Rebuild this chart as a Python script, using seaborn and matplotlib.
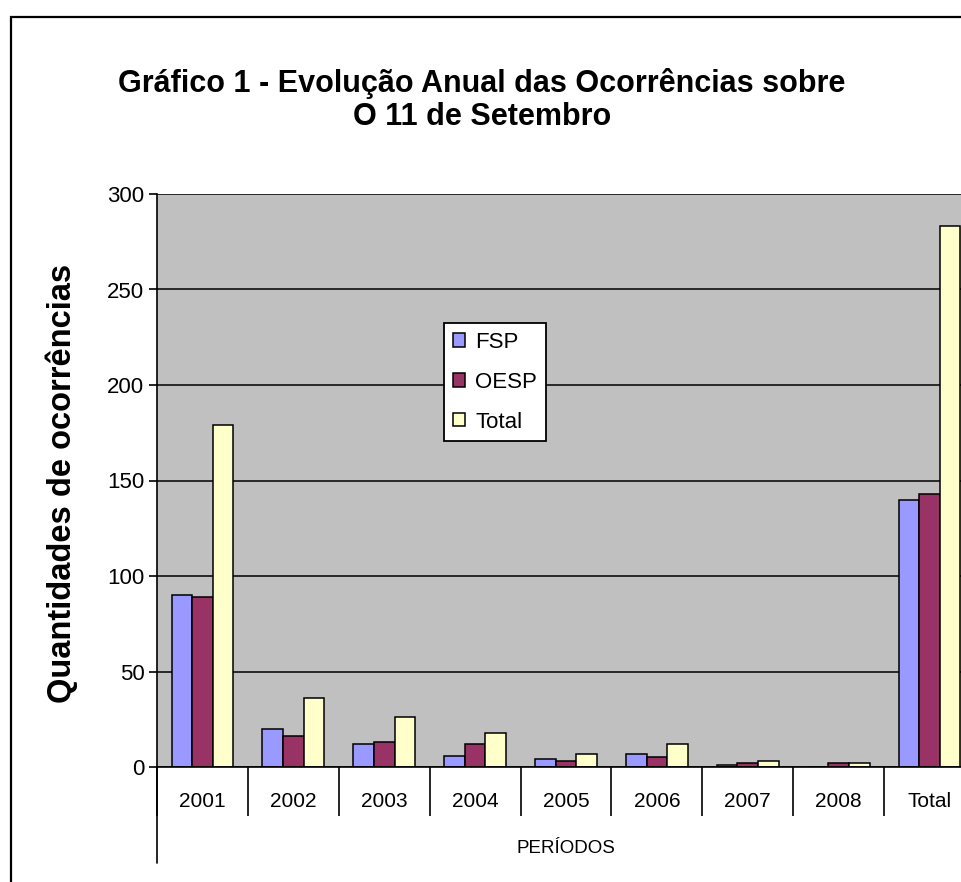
import pandas as pd
import matplotlib
matplotlib.use("Agg")
import matplotlib.pyplot as plt
from matplotlib.patches import Rectangle
from matplotlib.lines import Line2D
import seaborn as sns

# dados
periodos = ['2001', '2002', '2003', '2004', '2005', '2006', '2007', '2008', 'Total']
fsp = [90, 20, 12, 6, 4, 7, 1, 0, 140]
oesp = [89, 16, 13, 12, 3, 5, 2, 2, 143]
total = [179, 36, 26, 18, 7, 12, 3, 2, 283]
fontes = ['FSP', 'OESP', 'Total']
cores = {'FSP': '#9999FF', 'OESP': '#993366', 'Total': '#FFFFCC'}

df = pd.DataFrame({'periodo': periodos, 'FSP': fsp, 'OESP': oesp, 'Total': total})
df_melted = df.melt(id_vars=['periodo'], value_vars=fontes,
                    var_name='fonte', value_name='qtd')

sns.set_style('white')
plt.rcParams['font.family'] = ['Liberation Sans', 'DejaVu Sans']
plt.rcParams['text.color'] = 'black'
plt.rcParams['xtick.color'] = 'black'
plt.rcParams['ytick.color'] = 'black'
plt.rcParams['axes.labelcolor'] = 'black'

fig = plt.figure(figsize=(9.62, 8.82), dpi=100)
ax = fig.add_axes([157 / 962, 115 / 882, 818 / 962, 573 / 882])
ax.set_facecolor('#C0C0C0')

sns.barplot(data=df_melted, x='periodo', y='qtd', hue='fonte', hue_order=fontes,
            order=periodos, palette=cores, width=0.68, gap=0,
            edgecolor='black', linewidth=1.1, saturation=1, ax=ax)

ax.set_ylim(0, 300)
ax.set_xlim(-0.5, len(periodos) - 0.5)
ax.set_yticks(range(0, 301, 50))
ax.yaxis.grid(True, color='black', linewidth=1.1)
ax.set_axisbelow(True)

for s in ['top', 'right']:
    ax.spines[s].set_visible(False)
for s in ['left', 'bottom']:
    ax.spines[s].set_color('black')
    ax.spines[s].set_linewidth(1.2)

ax.tick_params(axis='y', which='major', left=True, direction='out', length=6,
               width=1.2, pad=3, labelsize=16, colors='black')
ax.tick_params(axis='x', which='major', bottom=True, length=0, pad=18, labelsize=15,
               colors='black')
ax.set_xticks([i - 0.5 for i in range(len(periodos) + 1)], minor=True)
ax.tick_params(axis='x', which='minor', bottom=True, direction='out', length=35, width=1.2,
               color='black')

ax.set_xlabel('')
ax.set_ylabel('')
ax.add_line(Line2D([0, 0], [0, -0.1675], transform=ax.transAxes, clip_on=False,
                   color='black', linewidth=1.2))
ax.text(0.5, -0.1414, 'PERÍODOS', transform=ax.transAxes, ha='center', va='center',
        fontsize=13.5)

fig.text(62 / 962, 1 - 483 / 882, 'Quantidades de ocorrências', rotation=90,
         ha='center', va='center', fontsize=23.5, fontweight='bold')

fig.text(482 / 962, 1 - 100 / 882,
         'Gráfico 1 - Evolução Anual das Ocorrências sobre\nO 11 de Setembro',
         ha='center', va='center', multialignment='center', linespacing=1.1,
         fontsize=22, fontweight='bold')

leg = ax.legend(loc='upper left', bbox_to_anchor=(0.351, 0.775), frameon=True,
                fancybox=False, framealpha=1, edgecolor='black', fontsize=16,
                handlelength=0.55, handleheight=0.55, handletextpad=0.45,
                labelspacing=0.85, borderpad=0.4, borderaxespad=0, title=None)
leg.get_frame().set_linewidth(1.3)

fig.patches.append(Rectangle((11 / 962, -0.05), 2, 1 - 17 / 882 + 0.05,
                             transform=fig.transFigure, fill=False,
                             edgecolor='black', linewidth=1.6))

plt.savefig('out.png', dpi=100)
plt.close()
